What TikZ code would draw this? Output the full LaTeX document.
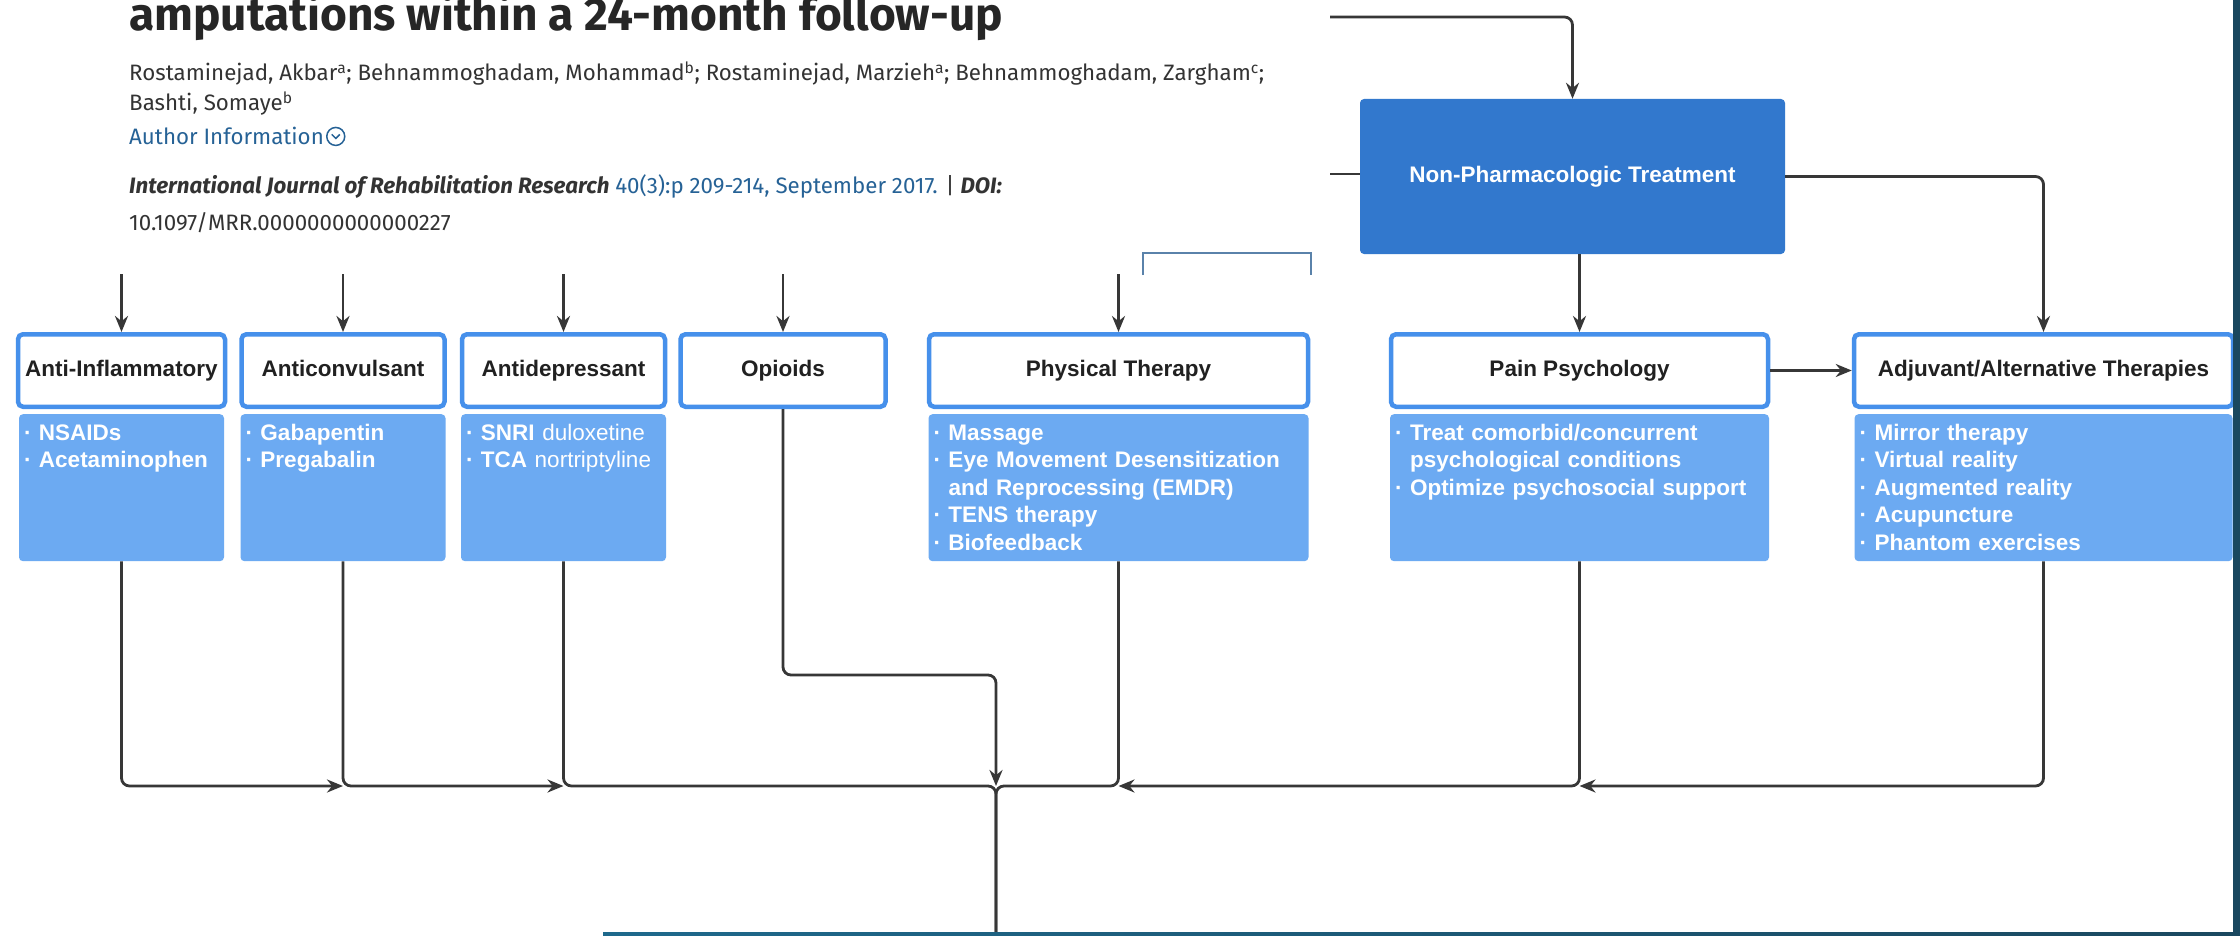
\documentclass[tikz,border=0pt]{standalone}
\usepackage{fontspec}
\setmainfont{Liberation Sans}
\newfontfamily\pagefont{Fira Sans}
\usepackage{xcolor}
\usetikzlibrary{arrows.meta,positioning,calc}
\definecolor{nonblue}{RGB}{50,120,205}
\definecolor{hdrblue}{RGB}{70,144,235}
\definecolor{itemblue}{RGB}{108,170,242}
\definecolor{linegray}{RGB}{55,55,55}
\definecolor{linkblue}{RGB}{38,98,150}
\definecolor{pagetext}{RGB}{51,51,51}
\definecolor{edgeteal}{RGB}{26,72,95}
\definecolor{edgeteal2}{RGB}{30,105,140}
\definecolor{btnline}{RGB}{90,130,170}

\begin{document}
\begin{tikzpicture}[
    x=1pt, y=-1pt,
    header/.style={draw=hdrblue, line width=4.5pt, fill=white, rounded corners=5pt, minimum height=72.5pt, minimum width=#1, inner sep=0pt, text height=16.5pt, text depth=4.5pt, font=\fontsize{22.5}{27}\selectfont\bfseries, text=black!87},
    items/.style={fill=itemblue, rounded corners=4pt, anchor=north, align=left, text width=#1, inner xsep=5pt, inner ysep=0pt, text height=26pt, text depth=121pt, font=\fontsize{22.5}{27.5}\selectfont\bfseries, text=white},
    nonpharm/.style={fill=nonblue, rounded corners=4pt, minimum width=425pt, minimum height=155pt, font=\fontsize{22.5}{27}\selectfont\bfseries, text=white},
    arrow/.style={-{Stealth[length=16pt,width=13pt]}, line width=2.8pt, color=linegray, rounded corners=8pt},
    link/.style={line width=2.8pt, color=linegray, rounded corners=8pt},
    pageline/.style={anchor=base west, inner sep=0pt, text=pagetext, font=\pagefont\fontsize{22.3}{26}\selectfont}
]
\useasboundingbox (0,0) rectangle (2240,936);
\fill[white] (0,0) rectangle (2240,936);

% Article page snippet
\node[pageline, font=\pagefont\bfseries\fontsize{46}{50}\selectfont, text=black!85] (title) at (129,31) {amputations within a 24-month follow-up};
\node[pageline] (authors) at (129,81) {Rostaminejad, Akbar\textsuperscript{a}; Behnammoghadam, Mohammad\textsuperscript{b}; Rostaminejad, Marzieh\textsuperscript{a}; Behnammoghadam, Zargham\textsuperscript{c};};
\node[pageline] (authors2) at (129,111) {Bashti, Somaye\textsuperscript{b}};
\node[pageline, text=linkblue] (info) at (129,145) {Author Information};
\node[draw=linkblue, circle, line width=1.5pt, minimum size=18pt, inner sep=0pt, right=2pt of info] (infoicon) {};
\draw[linkblue, line width=1.5pt] ($(infoicon.center)+(-4,-2)$) -- ++(4,4) -- ++(4,-4);
\node[pageline] (journal) at (129,194) {\textbf{\textit{International Journal of Rehabilitation Research}} \textcolor{linkblue}{40(3):p 209-214, September 2017.} | \textbf{\textit{DOI:}}};
\node[pageline] (doi) at (129,230) {10.1097/MRR.0000000000000227};
\draw[btnline, line width=1.2pt] (1143,275) -- (1143,253) -- (1311,253) -- (1311,275);

% Non-pharmacologic branch
\node[nonpharm] (nonph) at (1572.5,176.5) {Non-Pharmacologic Treatment};

% Headers
\node[header=207pt] (hinf) at (121.5,370.5) {Anti-Inflammatory};
\node[header=203pt] (hcon) at (343,370.5) {Anticonvulsant};
\node[header=203pt] (hdep) at (563.5,370.5) {Antidepressant};
\node[header=205pt] (hopi) at (783,370.5) {Opioids};
\node[header=379pt] (hphy) at (1118.5,370.5) {Physical Therapy};
\node[header=377pt] (hpain) at (1579.5,370.5) {Pain Psychology};
\node[header=379pt] (hadj) at (2043.5,370.5) {Adjuvant/Alternative Therapies};

% Item lists
\node[items=195pt, below=5pt of hinf] (iinf) {· NSAIDs\\· Acetaminophen};
\node[items=195pt, below=5pt of hcon] (icon) {· Gabapentin\\· Pregabalin};
\node[items=195pt, below=5pt of hdep] (idep) {· SNRI \textmd{duloxetine}\\· TCA \textmd{nortriptyline}};
\node[items=370pt, below=5pt of hphy] (iphy) {· Massage\\· Eye Movement Desensitization\\\hphantom{· }and Reprocessing (EMDR)\\· TENS therapy\\· Biofeedback};
\node[items=369pt, below=5pt of hpain] (ipain) {· Treat comorbid/concurrent\\\hphantom{· }psychological conditions\\· Optimize psychosocial support};
\node[items=368pt, below=5pt of hadj] (iadj) {· Mirror therapy\\· Virtual reality\\· Augmented reality\\· Acupuncture\\· Phantom exercises};

% Loose ends
\coordinate (cut) at (0,274);
\coordinate (topin) at (1330,17);
\coordinate (leftin) at (1330,174);
\coordinate (bus) at (996,786);
\coordinate (opturn) at (996,675);
\coordinate (trunk) at (996,940);

% Arrows - top
\draw[arrow] (topin) -| (nonph.north);
\draw[link] (leftin) -- (leftin -| nonph.west);
\draw[arrow] (nonph.east) -| (hadj.north);
\draw[arrow] (hpain.north |- nonph.south) -- (hpain.north);
\draw[arrow] (hpain.east) -- (hadj.west);
\draw[arrow] (hinf.north |- cut) -- (hinf.north);
\draw[arrow] (hcon.north |- cut) -- (hcon.north);
\draw[arrow] (hdep.north |- cut) -- (hdep.north);
\draw[arrow] (hopi.north |- cut) -- (hopi.north);
\draw[arrow] (hphy.north |- cut) -- (hphy.north);

% Arrows - bottom
\draw[arrow] (iinf.south) |- (icon.south |- bus);
\draw[arrow] (icon.south) |- (idep.south |- bus);
\draw[link] (idep.south) |- (bus) -- (trunk);
\draw[link] (iphy.south) |- (bus) -- (trunk);
\draw[arrow] (hopi.south) |- (opturn) -- (bus);
\draw[arrow] (ipain.south) |- (iphy.south |- bus);
\draw[arrow] (iadj.south) |- (ipain.south |- bus);

% Page edges
\fill[edgeteal] (2233,0) rectangle (2240,936);
\shade[left color=edgeteal2, right color=edgeteal] (603,932) rectangle (2240,936);
\end{tikzpicture}
\end{document}
